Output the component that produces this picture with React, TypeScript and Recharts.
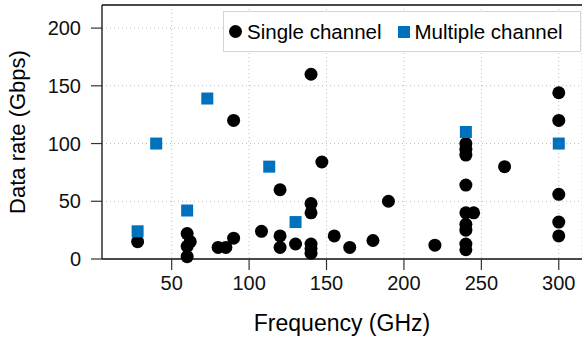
import React from 'react'
import { ScatterChart, Scatter, XAxis, YAxis, CartesianGrid, Legend, ReferenceLine, Label } from 'recharts'

// single channel links: frequency (GHz) / data rate (Gbps)
const singleFreq = [28, 60, 62, 60, 60, 80, 85, 90, 90, 108, 120, 120, 120, 130, 140, 140, 140, 140, 140, 140, 147, 155, 165, 180, 190, 220, 240, 240, 240, 240, 240, 240, 240, 240, 240, 245, 265, 300, 300, 300, 300, 300]
const singleRate = [15, 22, 15, 11, 2, 10, 10, 18, 120, 24, 60, 20, 10, 13, 160, 48, 40, 13, 9, 5, 84, 20, 10, 16, 50, 12, 100, 95, 90, 64, 40, 30, 25, 13, 8, 40, 80, 144, 120, 56, 32, 20]

// multiple channel links
const multiFreq = [28, 40, 60, 73, 113, 130, 240, 300]
const multiRate = [24, 100, 42, 139, 80, 32, 110, 100]

const xTicks = [50, 100, 150, 200, 250, 300]
const yTicks = [0, 50, 100, 150, 200]
const seriesNames = ['Single channel', 'Multiple channel']

const single = singleFreq.map((f, i) => ({ freq: f, rate: singleRate[i] }))
const multi = multiFreq.map((f, i) => ({ freq: f, rate: multiRate[i] }))

const FONT = '"Liberation Sans", Arial, Helvetica, sans-serif'
const BLUE = '#0072bd'

const Dot = (props: any) => <circle cx={props.cx} cy={props.cy} r={6.5} fill="#000" />
const Square = (props: any) => <rect x={props.cx - 6} y={props.cy - 6} width={12} height={12} fill={BLUE} />

function LegendBox(props: any) {
  // keep the legend in series order
  const items = [...(props.payload || [])].sort(
    (a: any, b: any) => seriesNames.indexOf(a.value) - seriesNames.indexOf(b.value)
  )
  return (
    <div
      style={{
        boxSizing: 'border-box',
        width: 358,
        height: 41,
        border: '1.5px solid #d4d4d4',
        background: '#fff',
        display: 'flex',
        alignItems: 'center',
        paddingLeft: 5,
        fontFamily: FONT,
        fontSize: 20.5,
        color: '#000',
        whiteSpace: 'nowrap',
      }}
    >
      {items.map((it: any, i: number) => (
        <React.Fragment key={i}>
          <span
            style={{
              display: 'inline-block',
              width: it.type === 'square' ? 12 : 13,
              height: it.type === 'square' ? 12 : 13,
              borderRadius: it.type === 'square' ? 0 : '50%',
              background: it.color,
              marginLeft: i === 0 ? 0 : 16,
              marginRight: 5,
            }}
          />
          <span>{it.value}</span>
        </React.Fragment>
      ))}
    </div>
  )
}

const YTitle = (props: any) => {
  const vb = props.viewBox
  const cx = vb.x + 17
  const cy = vb.y + vb.height / 2
  return (
    <text x={cx} y={cy} transform={`rotate(-90, ${cx}, ${cy})`} textAnchor="middle" dominantBaseline="central" fontSize={22} fontFamily={FONT} fill="#000">
      {props.value}
    </text>
  )
}

export default function App() {
  const tickStyle = { fontSize: 20, fontFamily: FONT, fill: '#111' }
  return (
    <div style={{ position: 'absolute', left: 0, top: 0 }}>
      <ScatterChart width={582} height={338} margin={{ top: 5, right: 0, bottom: 0, left: 0 }}>
        <CartesianGrid stroke="#bdbdbd" strokeDasharray="1 3" />
        <XAxis
          type="number"
          dataKey="freq"
          domain={[5, 315]}
          ticks={xTicks}
          height={79}
          tickSize={11}
          tickMargin={6}
          tick={tickStyle}
          axisLine={{ stroke: '#111', strokeWidth: 1.3 }}
          tickLine={{ stroke: '#333', strokeWidth: 1.2 }}
        >
          <Label value="Frequency (GHz)" position="insideBottom" offset={7} fontSize={23} fontFamily={FONT} fill="#000" />
        </XAxis>
        <YAxis
          type="number"
          dataKey="rate"
          domain={[0, 220]}
          ticks={yTicks}
          width={102}
          tickSize={11}
          tickMargin={10}
          tick={tickStyle}
          axisLine={{ stroke: '#111', strokeWidth: 1.3 }}
          tickLine={{ stroke: '#333', strokeWidth: 1.2 }}
        >
          <Label value="Data rate (Gbps)" content={YTitle} />
        </YAxis>
        <ReferenceLine y={220} stroke="#111" strokeWidth={1.3} />
        <Legend
          layout="vertical"
          align="center"
          verticalAlign="middle"
          wrapperStyle={{ top: 11, left: 223, width: 358 }}
          content={LegendBox}
        />
        <Scatter name={seriesNames[0]} data={single} fill="#000" legendType="circle" shape={Dot} isAnimationActive={false} />
        <Scatter name={seriesNames[1]} data={multi} fill={BLUE} legendType="square" shape={Square} isAnimationActive={false} />
      </ScatterChart>
    </div>
  )
}
